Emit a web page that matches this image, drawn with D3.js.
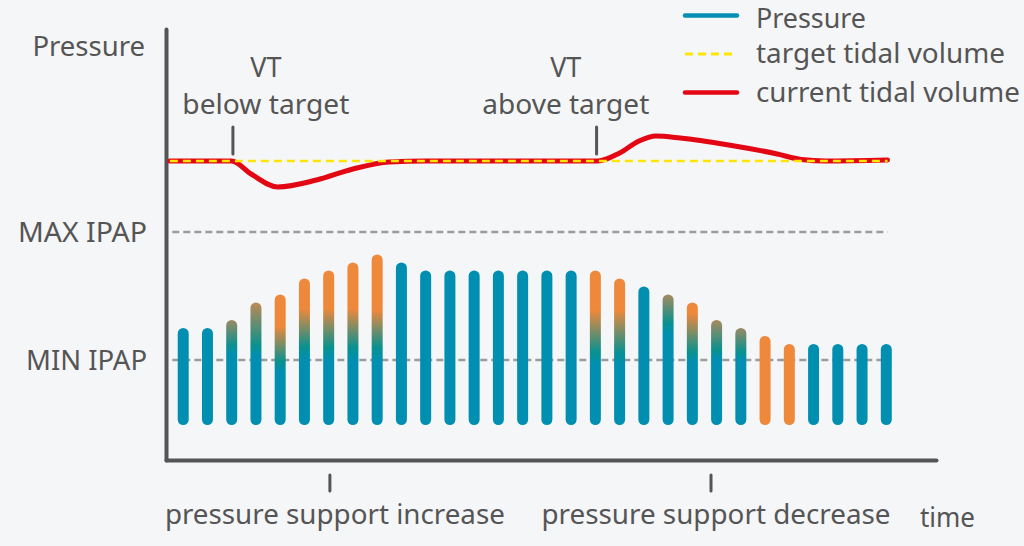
<!DOCTYPE html>
<html>
<head>
<meta charset="utf-8">
<script src="https://cdn.jsdelivr.net/npm/d3@7"></script>
<style>
  html, body { margin: 0; padding: 0; background: #f5f6f8; }
  svg { display: block; font-family: "Noto Sans", sans-serif; }
</style>
</head>
<body>
<svg id="chart" width="1024" height="546"></svg>
<script>
// pressure per breath (cmH2O), breath index 0..29
const pressure = [12.0, 12.0, 12.5, 13.6, 14.1, 15.1, 15.6, 16.1, 16.6, 16.1,
  15.6, 15.6, 15.6, 15.6, 15.6, 15.6, 15.6, 15.6, 15.1, 14.6,
  14.1, 13.6, 12.5, 12.0, 11.5, 11.0, 11.0, 11.0, 11.0, 11.0];
// how orange the top of each bar is (0 = teal, 1 = orange)
const orangeMix = [0, 0, 0.65, 0.8, 1, 1, 1, 1, 1, 0,
  0, 0, 0, 0, 0, 0, 0, 1, 1, 0,
  0.7, 1, 0.7, 0.65, 1, 1, 0, 0, 0, 0];
// level down to which the top colour is held
const holdTo = [12.0, 12.0, 12.5, 13.6, 12.1, 13.2, 13.2, 13.2, 13.1, 16.1,
  15.6, 15.6, 15.6, 15.6, 15.6, 15.6, 15.6, 13.1, 13.1, 14.6,
  14.1, 12.9, 12.5, 12.0, 6, 6, 11.0, 11.0, 11.0, 11.0];
// level where the bar has turned teal
const tealAt = [12.0, 12.0, 10.9, 10.9, 9.9, 10.8, 10.8, 10.8, 10.8, 16.1,
  15.6, 15.6, 15.6, 15.6, 15.6, 15.6, 15.6, 10.5, 10.5, 14.6,
  12.3, 10.5, 10.6, 10.5, 6, 6, 11.0, 11.0, 11.0, 11.0];

const epap = 6;
const ipapLimits = [10, 18];
const ipapLabels = ["MIN IPAP", "MAX IPAP"];

// tidal volume (mL) against time in breaths
const targetVolume = 500;
const volumeT = [-0.55, 2.0, 2.8, 3.9, 5.5, 7.0, 8.5, 10.0, 17.1, 18.0, 18.8, 19.5, 20.5, 22.5, 24.5, 25.5, 26.5, 29.05];
const volumeV = [500, 500, 487, 474, 481, 492, 499, 500, 500, 508, 520, 525, 523, 516, 507, 501.5, 500, 501];

// marker time, label centre time
const events = [{t: 2.05, lt: 3.41, lines: ["VT", "below target"]}, {t: 17.05, lt: 15.78, lines: ["VT", "above target"]}];
const phases = [{t: 6.05, label: "pressure support increase", w: 340}, {t: 21.77, label: "pressure support decrease", w: 349}];

const legendItems = [
  {label: "Pressure", color: "#0490b3", dash: null, w: 110},
  {label: "target tidal volume", color: "#ffe500", dash: "8,5", w: 249},
  {label: "current tidal volume", color: "#e30613", dash: null, w: 264}
];

const teal = "#018fb1", tealDeep = "#09918f", orange = "#ee883b";
const ink = "#555555";

const svg = d3.select("#chart");
const x = d3.scaleLinear().domain([-0.71, 31.05]).range([166, 936]);
const yP = d3.scaleLinear().domain([3.75, 30.6875]).range([460, 29]);
const yV = d3.scaleLinear().domain([400, 600]).range([261, 61]);

// axes
const yAxis = svg.append("g")
  .attr("transform", `translate(${x(-0.71)},0)`)
  .call(d3.axisLeft(yP).tickValues(ipapLimits)
    .tickFormat((d, i) => ipapLabels[i]).tickSize(0).tickSizeOuter(0).tickPadding(19));
yAxis.select(".domain").attr("stroke", ink).attr("stroke-width", 4).attr("stroke-linecap", "round");
yAxis.selectAll(".tick text").attr("fill", ink).style("font-size", "28px")
  .style("font-family", "Noto Sans").attr("dy", "0.35em")
  .attr("textLength", (d, i) => [121, 129][i]).attr("lengthAdjust", "spacingAndGlyphs");

const xAxis = svg.append("g")
  .attr("transform", `translate(0,${yP(3.75)})`)
  .call(d3.axisBottom(x).tickValues([]).tickSizeOuter(0));
xAxis.select(".domain").attr("stroke", ink).attr("stroke-width", 4).attr("stroke-linecap", "round");

svg.append("text").attr("x", 145).attr("y", 56).attr("text-anchor", "end")
  .attr("fill", ink).style("font-size", "27.5px").text("Pressure");

// IPAP limit lines
svg.selectAll(".limit").data(ipapLimits).join("line")
  .attr("x1", x(-0.45)).attr("x2", (d, i) => x(i ? 29.05 : 29.2))
  .attr("y1", d => yP(d)).attr("y2", d => yP(d))
  .attr("stroke", "#9c9c9c").attr("stroke-width", 2.5).attr("stroke-dasharray", "7,4");

// bar gradients
const defs = svg.append("defs");
const mixCol = d3.interpolateRgb(teal, orange);
pressure.forEach((p, i) => {
  const top = yP(p), bot = yP(epap);
  const off = v => Math.max(0, Math.min(1, (yP(v) - top) / (bot - top)));
  const topCol = mixCol(orangeMix[i]);
  const g = defs.append("linearGradient").attr("id", "bar" + i)
    .attr("gradientUnits", "userSpaceOnUse")
    .attr("x1", 0).attr("x2", 0).attr("y1", top).attr("y2", bot);
  let stops;
  if (orangeMix[i] === 0) {
    stops = [[0, teal], [1, teal]];
  } else if (tealAt[i] > epap) {
    stops = [[0, topCol], [off(holdTo[i]), topCol], [off(tealAt[i]), tealDeep],
      [Math.min(1, off(tealAt[i]) + 0.08), teal], [1, teal]];
  } else {
    stops = [[0, topCol], [1, topCol]];
  }
  g.selectAll("stop").data(stops).join("stop")
    .attr("offset", d => d[0]).attr("stop-color", d => d[1]);
});

svg.selectAll(".bar").data(pressure).join("rect")
  .attr("x", (d, i) => x(i) - 5.5).attr("width", 11)
  .attr("y", d => yP(d)).attr("height", d => yP(epap) - yP(d) + 1)
  .attr("rx", 5.5)
  .attr("fill", (d, i) => `url(#bar${i})`);

// tidal volume lines
const volPts = volumeT.map((t, i) => [t, volumeV[i]]);
const line = d3.line().x(d => x(d[0])).y(d => yV(d[1])).curve(d3.curveMonotoneX);
svg.append("path").datum(volPts).attr("d", line)
  .attr("fill", "none").attr("stroke", "#e30613").attr("stroke-width", 5)
  .attr("stroke-linecap", "round").attr("stroke-linejoin", "round");
svg.append("line")
  .attr("x1", x(-0.55)).attr("x2", x(29.05))
  .attr("y1", yV(targetVolume)).attr("y2", yV(targetVolume))
  .attr("stroke", "#ffe500").attr("stroke-width", 2.5).attr("stroke-dasharray", "8,5");

// event markers
const ev = svg.selectAll(".event").data(events).join("g");
ev.append("line")
  .attr("x1", d => x(d.t)).attr("x2", d => x(d.t))
  .attr("y1", 127).attr("y2", 154)
  .attr("stroke", ink).attr("stroke-width", 3).attr("stroke-linecap", "round");
ev.selectAll("text").data(d => d.lines.map((l, k) => ({l, k, lt: d.lt}))).join("text")
  .attr("x", d => x(d.lt)).attr("y", d => 77 + d.k * 37)
  .attr("text-anchor", "middle").attr("fill", ink).style("font-size", "27px")
  .attr("textLength", d => d.k ? 167 : null).attr("lengthAdjust", "spacingAndGlyphs")
  .text(d => d.l);

// phase markers under the time axis
const ph = svg.selectAll(".phase").data(phases).join("g");
ph.append("line")
  .attr("x1", d => x(d.t)).attr("x2", d => x(d.t))
  .attr("y1", 475).attr("y2", 491)
  .attr("stroke", ink).attr("stroke-width", 3).attr("stroke-linecap", "round");
ph.append("text")
  .attr("x", d => x(d.t) + 5 - d.w / 2).attr("y", 524)
  .attr("textLength", d => d.w).attr("lengthAdjust", "spacingAndGlyphs")
  .attr("fill", ink).style("font-size", "27px").text(d => d.label);
svg.append("text").attr("x", 920).attr("y", 527)
  .attr("textLength", 55).attr("lengthAdjust", "spacingAndGlyphs")
  .attr("fill", ink).style("font-size", "27px").text("time");

// legend
const lg = svg.selectAll(".legend").data(legendItems).join("g")
  .attr("transform", (d, i) => `translate(685,${[15.5, 54, 92.5][i]})`);
lg.append("line").attr("x1", 0).attr("x2", 52)
  .attr("stroke", d => d.color).attr("stroke-width", d => d.dash ? 3 : 4.5)
  .attr("stroke-dasharray", d => d.dash).attr("stroke-linecap", d => d.dash ? "butt" : "round");
lg.append("text").attr("x", 71).attr("y", (d, i) => i ? 9 : 12.5)
  .attr("textLength", d => d.w).attr("lengthAdjust", "spacingAndGlyphs")
  .attr("fill", ink).style("font-size", "26.5px").text(d => d.label);
</script>
</body>
</html>
